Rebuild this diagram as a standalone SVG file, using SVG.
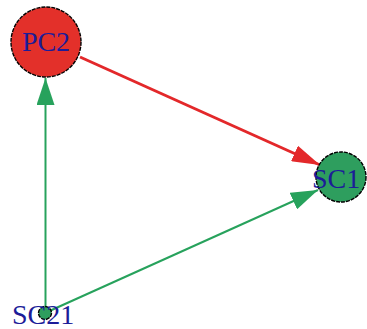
<svg xmlns="http://www.w3.org/2000/svg" width="367" height="329" viewBox="0 0 367 329">
<style>
.lbl{font-family:"Liberation Serif","Times New Roman",serif;font-size:28px;fill:#1c1c98}
.node{stroke:#000;stroke-width:1.4;stroke-dasharray:4,1}
</style>
<defs>
<marker id="ag" markerUnits="userSpaceOnUse" markerWidth="27" markerHeight="18" refX="27" refY="9" orient="auto" viewBox="0 0 27 18"><path d="M0,0 L27,9 L0,18 z" fill="#27a25c"/></marker>
<marker id="ar" markerUnits="userSpaceOnUse" markerWidth="28" markerHeight="17" refX="28" refY="8.5" orient="auto" viewBox="0 0 28 17"><path d="M0,0 L28,8.5 L0,17 z" fill="#e3282a"/></marker>
</defs>
<rect width="367" height="329" fill="#fff"/>
<g id="edges">
<line x1="45.5" y1="313" x2="45.5" y2="78" stroke="#27a25c" stroke-width="2" marker-end="url(#ag)"/>
<line x1="45" y1="313" x2="318" y2="190" stroke="#27a25c" stroke-width="2" marker-end="url(#ag)"/>
<line x1="80" y1="57" x2="320" y2="165" stroke="#e3282a" stroke-width="3" marker-end="url(#ar)"/>
</g>
<g id="PC2">
<circle class="node" cx="46" cy="42" r="35" fill="#e3302a"/>
<text class="lbl" x="46" y="51" text-anchor="middle">PC2</text>
</g>
<g id="SC1">
<circle class="node" cx="341" cy="177" r="25" fill="#2e9e5e"/>
<text class="lbl" x="312" y="188">SC1</text>
</g>
<g id="SC21">
<circle class="node" cx="45" cy="313" r="6.5" fill="#2e9e5e"/>
<text class="lbl" x="12" y="324">SC21</text>
</g>
</svg>
